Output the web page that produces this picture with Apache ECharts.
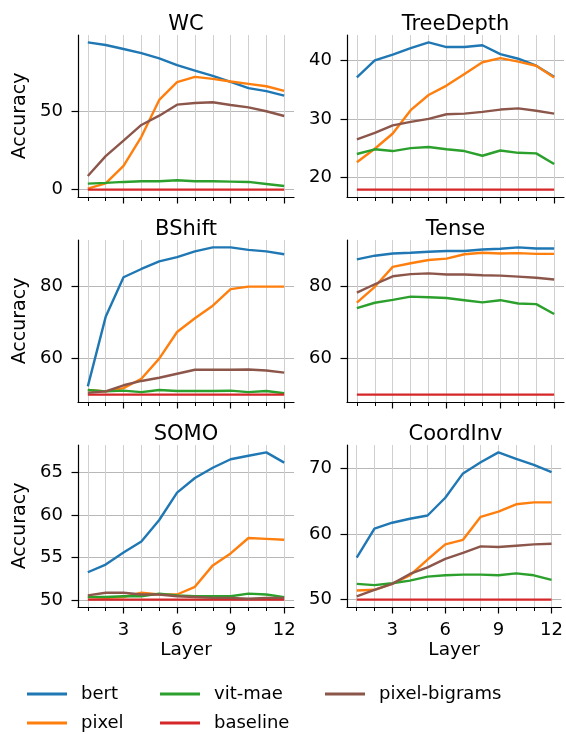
<!DOCTYPE html>
<html>
<head>
<meta charset="utf-8">
<script src="https://cdn.jsdelivr.net/npm/echarts@6/dist/echarts.min.js"></script>
<style>
  html, body { margin: 0; padding: 0; background: #ffffff; }
  #chart { width: 566px; height: 734px; }
</style>
</head>
<body>
<div id="chart"></div>
<script>
// Probing accuracy per layer for six linguistic tasks
const layers = [1, 2, 3, 4, 5, 6, 7, 8, 9, 10, 11, 12];
const xLabelTicks = [3, 6, 9, 12];
const tasks = ['WC', 'TreeDepth', 'BShift', 'Tense', 'SOMO', 'CoordInv'];
const models = ['bert', 'pixel', 'vit-mae', 'baseline', 'pixel-bigrams'];

// WC
const wcBert     = [93.6, 91.9, 89.4, 86.8, 83.4, 79.1, 75.7, 72.3, 68.5, 64.5, 62.6, 59.8];
const wcPixel    = [0.6, 4.0, 15.1, 33.6, 57.0, 68.3, 71.7, 70.4, 68.7, 67.2, 65.7, 62.8];
const wcVitMae   = [3.8, 4.3, 4.9, 5.3, 5.3, 6.0, 5.3, 5.3, 5.1, 4.9, 3.6, 2.3];
const wcBaseline = [0, 0, 0, 0, 0, 0, 0, 0, 0, 0, 0, 0];
const wcBigrams  = [8.7, 21.3, 31.1, 41.1, 47.0, 54.0, 55.1, 55.5, 53.8, 52.3, 49.8, 46.8];
const wcTicks = [0, 50];

// TreeDepth
const tdBert     = [37.1, 40.0, 41.0, 42.1, 43.1, 42.3, 42.3, 42.6, 41.1, 40.3, 39.1, 37.2];
const tdPixel    = [22.6, 24.9, 27.5, 31.5, 34.1, 35.7, 37.7, 39.7, 40.4, 39.8, 39.1, 37.1];
const tdVitMae   = [24.0, 24.8, 24.5, 25.0, 25.2, 24.8, 24.5, 23.7, 24.6, 24.2, 24.1, 22.3];
const tdBaseline = [17.9, 17.9, 17.9, 17.9, 17.9, 17.9, 17.9, 17.9, 17.9, 17.9, 17.9, 17.9];
const tdBigrams  = [26.5, 27.6, 28.9, 29.5, 30.0, 30.8, 30.9, 31.2, 31.6, 31.8, 31.4, 30.9];
const tdTicks = [20, 30, 40];

// BShift
const bsBert     = [52.3, 71.6, 82.6, 84.9, 87.0, 88.2, 89.8, 90.9, 90.9, 90.2, 89.8, 89.0];
const bsPixel    = [51.3, 50.9, 51.8, 54.4, 60.0, 67.4, 71.2, 74.7, 79.3, 80.0, 80.0, 80.0];
const bsVitMae   = [51.3, 50.9, 51.1, 50.7, 51.3, 51.0, 51.0, 51.0, 51.1, 50.7, 51.0, 50.4];
const bsBaseline = [50, 50, 50, 50, 50, 50, 50, 50, 50, 50, 50, 50];
const bsBigrams  = [50.5, 50.9, 52.6, 53.8, 54.7, 55.8, 56.9, 56.9, 56.9, 57.0, 56.7, 56.1];
const bsTicks = [60, 80];

// Tense
const teBert     = [87.4, 88.4, 89.0, 89.2, 89.5, 89.7, 89.7, 90.1, 90.3, 90.7, 90.4, 90.4];
const tePixel    = [75.4, 79.8, 85.3, 86.3, 87.2, 87.6, 88.8, 89.2, 89.0, 89.1, 88.9, 88.9];
const teVitMae   = [73.9, 75.4, 76.2, 77.1, 76.9, 76.7, 76.1, 75.5, 76.1, 75.2, 75.0, 72.3];
const teBaseline = [50, 50, 50, 50, 50, 50, 50, 50, 50, 50, 50, 50];
const teBigrams  = [78.2, 80.5, 82.7, 83.3, 83.5, 83.2, 83.2, 83.0, 82.9, 82.6, 82.3, 81.8];
const teTicks = [60, 80];

// SOMO
const soBert     = [53.3, 54.2, 55.6, 56.9, 59.4, 62.6, 64.3, 65.5, 66.5, 66.9, 67.3, 66.1];
const soPixel    = [50.4, 50.3, 50.4, 50.9, 50.7, 50.7, 51.6, 54.1, 55.5, 57.3, 57.2, 57.1];
const soVitMae   = [50.4, 50.4, 50.5, 50.5, 50.8, 50.6, 50.5, 50.5, 50.5, 50.8, 50.7, 50.4];
const soBaseline = [50.1, 50.1, 50.1, 50.1, 50.1, 50.1, 50.1, 50.1, 50.1, 50.1, 50.1, 50.1];
const soBigrams  = [50.6, 50.9, 50.9, 50.7, 50.7, 50.5, 50.4, 50.3, 50.3, 50.2, 50.3, 50.3];
const soTicks = [50, 55, 60, 65];

// CoordInv
const ciBert     = [56.4, 60.8, 61.7, 62.3, 62.8, 65.5, 69.2, 70.9, 72.4, 71.4, 70.5, 69.4];
const ciPixel    = [51.4, 51.5, 52.4, 53.7, 56.1, 58.4, 59.1, 62.6, 63.4, 64.5, 64.8, 64.8];
const ciVitMae   = [52.4, 52.2, 52.5, 52.9, 53.5, 53.7, 53.8, 53.8, 53.7, 54.0, 53.7, 53.0];
const ciBaseline = [50, 50, 50, 50, 50, 50, 50, 50, 50, 50, 50, 50];
const ciBigrams  = [50.5, 51.5, 52.4, 53.9, 54.9, 56.2, 57.1, 58.1, 58.0, 58.2, 58.4, 58.5];
const ciTicks = [50, 60, 70];

const panelSeries = [
  [wcBert, wcPixel, wcVitMae, wcBaseline, wcBigrams],
  [tdBert, tdPixel, tdVitMae, tdBaseline, tdBigrams],
  [bsBert, bsPixel, bsVitMae, bsBaseline, bsBigrams],
  [teBert, tePixel, teVitMae, teBaseline, teBigrams],
  [soBert, soPixel, soVitMae, soBaseline, soBigrams],
  [ciBert, ciPixel, ciVitMae, ciBaseline, ciBigrams]
];
const panelTicks = [wcTicks, tdTicks, bsTicks, teTicks, soTicks, ciTicks];

// ---- styling ----
const colors = ['#1f77b4', '#ff7f0e', '#2ca02c', '#d62728', '#8c564b'];
const FONT = 'DejaVu Sans';
const colLeft = [78, 347];
const colWidth = [216, 217];
const rowTop = [35, 240, 445];
const rowHeight = 162;

const grids = [], xAxes = [], yAxes = [], series = [], titles = [];

tasks.forEach((task, g) => {
  const col = g % 2, row = Math.floor(g / 2);
  const left = colLeft[col], top = rowTop[row], width = colWidth[col];
  grids.push({ left: left, top: top, width: width, height: rowHeight, containLabel: false });

  // y range with 5% padding around the data extent
  const all = [].concat(...panelSeries[g]);
  const lo = Math.min(...all), hi = Math.max(...all), pad = (hi - lo) * 0.05;

  titles.push({
    text: task, left: left + width / 2, top: top - 21, textAlign: 'center', padding: 0,
    textStyle: { fontFamily: FONT, fontSize: 21, fontWeight: 'normal', color: '#000' }
  });

  const bottomRow = row === 2;
  // layer axis with minor ticks and vertical grid at every layer
  xAxes.push({
    type: 'value', gridIndex: g, position: 'bottom', min: 0.45, max: 12.55,
    name: bottomRow ? 'Layer' : '', nameLocation: 'middle', nameGap: 34,
    nameTextStyle: { fontFamily: FONT, fontSize: 18.5, color: '#000' },
    axisLine: { show: true, onZero: false, lineStyle: { color: '#000', width: 1.2 } },
    axisTick: { show: true, length: 4, customValues: layers, lineStyle: { color: '#000', width: 1 } },
    axisLabel: { show: bottomRow, customValues: xLabelTicks, margin: 14,
      fontFamily: FONT, fontSize: 18, color: '#000' },
    splitLine: { show: true, lineStyle: { color: '#d0d0d0', width: 1 } }
  });
  // longer major ticks
  xAxes.push({
    type: 'value', gridIndex: g, position: 'bottom', min: 0.45, max: 12.55,
    axisLine: { show: false, onZero: false },
    axisTick: { show: true, length: 6.5, customValues: xLabelTicks, lineStyle: { color: '#000', width: 1.2 } },
    axisLabel: { show: false }, splitLine: { show: false }
  });

  yAxes.push({
    type: 'value', gridIndex: g, position: 'left', min: lo - pad, max: hi + pad,
    name: col === 0 ? 'Accuracy' : '', nameLocation: 'middle', nameGap: 48,
    nameTextStyle: { fontFamily: FONT, fontSize: 19, color: '#000' },
    axisLine: { show: true, onZero: false, lineStyle: { color: '#000', width: 1.2 } },
    axisTick: { show: true, length: 6.5, customValues: panelTicks[g], lineStyle: { color: '#000', width: 1.2 } },
    axisLabel: { show: true, customValues: panelTicks[g], margin: 15,
      fontFamily: FONT, fontSize: 18, color: '#000' },
    splitLine: { show: true, lineStyle: { color: '#b8b8b8', width: 1 } }
  });

  panelSeries[g].forEach((vals, m) => {
    series.push({
      name: models[m], type: 'line', xAxisIndex: 2 * g, yAxisIndex: g,
      data: layers.map((l, i) => [l, vals[i]]),
      symbol: 'none', showSymbol: false, smooth: false,
      lineStyle: { color: colors[m], width: 2.4 },
      itemStyle: { color: colors[m] },
      z: 2 + m
    });
  });
});

const legendCommon = {
  orient: 'vertical', icon: 'rect', itemWidth: 40, itemHeight: 3, itemGap: 11,
  selectedMode: false, padding: 0,
  textStyle: { fontFamily: FONT, fontSize: 18, color: '#000', padding: [0, 0, 0, 9] }
};

const option = {
  backgroundColor: '#ffffff',
  animation: false,
  title: titles,
  grid: grids,
  xAxis: xAxes,
  yAxis: yAxes,
  legend: [
    Object.assign({ data: ['bert', 'pixel'], left: 27, top: 685 }, legendCommon),
    Object.assign({ data: ['vit-mae', 'baseline'], left: 160, top: 685 }, legendCommon),
    Object.assign({ data: ['pixel-bigrams'], left: 325, top: 685 }, legendCommon)
  ],
  series: series
};

const chart = echarts.init(document.getElementById('chart'), null, { renderer: 'canvas' });
chart.setOption(option);
</script>
</body>
</html>
